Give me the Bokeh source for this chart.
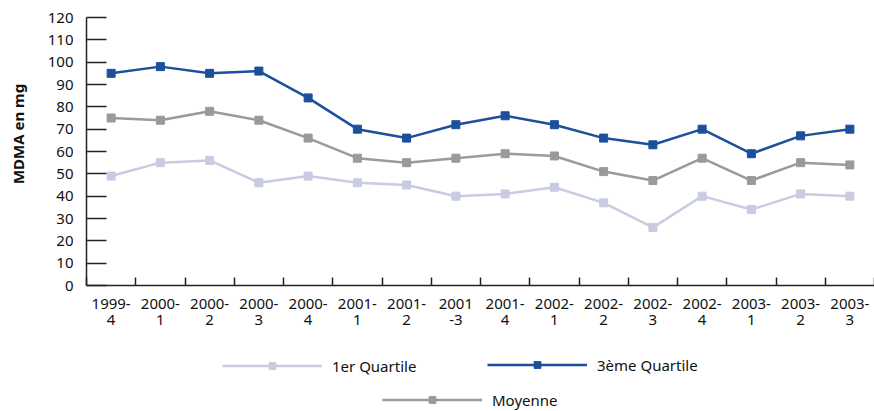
from bokeh.plotting import figure
from bokeh.models import (Range1d, FixedTicker, LinearAxis, Legend, LegendItem)
from bokeh.layouts import column
from bokeh.embed import file_html
from bokeh.resources import INLINE

categories = ["1999-\n4", "2000-\n1", "2000-\n2", "2000-\n3", "2000-\n4", "2001-\n1",
              "2001-\n2", "2001\n-3", "2001-\n4", "2002-\n1", "2002-\n2", "2002-\n3",
              "2002-\n4", "2003-\n1", "2003-\n2", "2003-\n3"]
q1 = [49, 55, 56, 46, 49, 46, 45, 40, 41, 44, 37, 26, 40, 34, 41, 40]
q3 = [95, 98, 95, 96, 84, 70, 66, 72, 76, 72, 66, 63, 70, 59, 67, 70]
moyenne = [75, 74, 78, 74, 66, 57, 55, 57, 59, 58, 51, 47, 57, 47, 55, 54]
y_ticks = list(range(0, 121, 10))

FONT = "Noto Sans"
TXT = "#111111"
AX = "#222222"

n = len(categories)
xs = [i + 0.5 for i in range(n)]

p = figure(width=874, height=332, output_backend="svg", toolbar_location=None,
           x_range=Range1d(0, n), y_range=Range1d(0, 120),
           min_border_left=86, min_border_right=0, min_border_top=17, min_border_bottom=47)
p.outline_line_color = None
p.xgrid.visible = False
p.ygrid.visible = False

# y axis
ya = p.yaxis[0]
ya.ticker = FixedTicker(ticks=y_ticks)
ya.major_tick_in = 20
ya.major_tick_out = 0
ya.minor_tick_line_color = None
ya.axis_line_color = AX
ya.axis_line_width = 1.5
ya.major_tick_line_color = AX
ya.major_tick_line_width = 1.5
ya.major_label_standoff = 13
ya.major_label_text_font = FONT
ya.major_label_text_font_size = "15px"
ya.major_label_text_color = TXT
# leading no-break spaces lift the visible label a little above the frame centre
ya.axis_label = "\u00a0" * 9 + "MDMA en mg"
ya.axis_label_text_font = FONT
ya.axis_label_text_font_size = "15px"
ya.axis_label_text_font_style = "bold"
ya.axis_label_text_color = TXT
ya.axis_label_standoff = 17

# x axis: boundary ticks
xa = p.xaxis[0]
xa.ticker = FixedTicker(ticks=list(range(n + 1)))
xa.major_tick_in = 8
xa.major_tick_out = 0
xa.minor_tick_line_color = None
xa.axis_line_color = AX
xa.axis_line_width = 1.5
xa.major_tick_line_color = AX
xa.major_tick_line_width = 1.5
xa.major_label_overrides = {i: "" for i in range(n + 1)}
xa.major_label_standoff = 0
xa.major_label_text_font_size = "1px"

# x axis: category labels at centres
xl = LinearAxis(ticker=FixedTicker(ticks=xs),
                major_label_overrides={x: c for x, c in zip(xs, categories)})
xl.axis_line_color = None
xl.major_tick_line_color = None
xl.minor_tick_line_color = None
xl.major_label_standoff = 1
xl.major_label_text_font = FONT
xl.major_label_text_font_size = "15px"
xl.major_label_text_line_height = 0.8
xl.major_label_text_color = TXT
p.add_layout(xl, "below")

series = [
    ("1er Quartile", q1, "#c8cbe2"),
    ("3ème Quartile", q3, "#1c4f9c"),
    ("Moyenne", moyenne, "#9a9a9a"),
]
for name, vals, col in series:
    p.line(xs, vals, line_color=col, line_width=2.5)
    p.scatter(xs, vals, marker="square", size=8, fill_color=col, line_color=col)

# legend figure (its frame is aligned with the main frame by the column layout)
lf = figure(width=874, height=79, output_backend="svg", toolbar_location=None,
            x_axis_type=None, y_axis_type=None, x_range=Range1d(0, 1), y_range=Range1d(0, 1),
            min_border_left=0, min_border_right=0, min_border_top=0, min_border_bottom=0)
lf.outline_line_color = None
lf.xgrid.visible = False
lf.ygrid.visible = False

nan = float("nan")
legend_pos = {"1er Quartile": (136, 34), "3ème Quartile": (401, 35), "Moyenne": (296, 0)}
for name, vals, col in series:
    l = lf.line([nan], [nan], line_color=col, line_width=2.5)
    s = lf.scatter([nan], [nan], marker="square", fill_color=col, line_color=col)
    lg = Legend(items=[LegendItem(label=name, renderers=[l, s])],
                location=legend_pos[name], glyph_width=100, glyph_height=17,
                label_height=23, label_standoff=10, padding=0, margin=0, spacing=0,
                border_line_color=None, background_fill_alpha=0,
                label_text_font=FONT, label_text_font_size="15px",
                label_text_color=TXT)
    lf.add_layout(lg, "center")

layout = column(p, lf, spacing=0)
open("out.html", "w").write(file_html(layout, INLINE))
